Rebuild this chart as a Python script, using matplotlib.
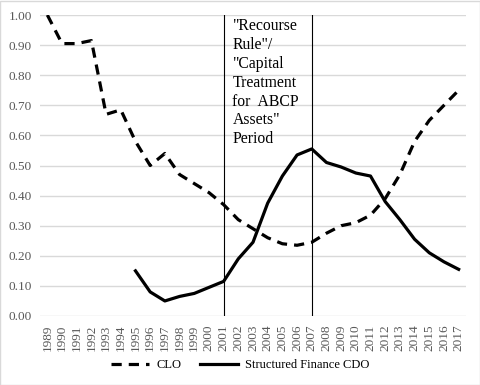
import numpy as np
import matplotlib.pyplot as plt
from matplotlib.lines import Line2D

plt.rcParams.update({
    "font.family": ["Liberation Serif", "DejaVu Serif"],
})

years = list(range(1989, 2018))
clo = [1.00, 0.905, 0.905, 0.915, 0.67, 0.685, 0.58, 0.50, 0.54, 0.47,
       0.44, 0.41, 0.37, 0.32, 0.29, 0.26, 0.24, 0.235, 0.245, 0.275,
       0.30, 0.31, 0.335, 0.39, 0.47, 0.58, 0.65, 0.70, 0.75]
sf_years = list(range(1995, 2018))
sf_cdo = [0.15, 0.08, 0.05, 0.065, 0.075, 0.095, 0.115, 0.19, 0.245, 0.375,
          0.465, 0.535, 0.555, 0.51, 0.495, 0.475, 0.465, 0.38, 0.32, 0.255,
          0.21, 0.18, 0.155]
period = (2001, 2007)
period_text = '"Recourse\nRule"/\n"Capital\nTreatment\nfor  ABCP\nAssets"\nPeriod'

fig = plt.figure(figsize=(4.81, 3.85), dpi=100)
ax = fig.add_axes([40 / 481, 1 - 316 / 385, 426 / 481, 301 / 385])

x_clo = [years.index(y) for y in years]
x_sf = [years.index(y) for y in sf_years]

ax.plot(x_clo, clo, color="black", lw=2.3, dashes=(3.2, 2.2), label="CLO")
ax.plot(x_sf, sf_cdo, color="black", lw=2.3, label="Structured Finance CDO")

for p in period:
    ax.axvline(years.index(p), color="black", lw=0.8)

ax.text(years.index(period[0]) + 0.6, 0.99, period_text, va="top", ha="left",
        fontsize=11.3, linespacing=1.24, color="black")

ax.set_xlim(-0.5, len(years) - 0.5)
ax.set_ylim(0, 1.0)
ax.set_yticks(np.arange(0, 1.01, 0.1))
ax.set_yticklabels([f"{v:.2f}" for v in np.arange(0, 1.01, 0.1)])
ax.set_xticks(range(len(years)))
ax.set_xticklabels([str(y) for y in years], rotation=90)
ax.tick_params(axis="both", length=0, labelsize=9.5, labelcolor="#595959")
ax.tick_params(axis="y", pad=6)
ax.tick_params(axis="x", pad=6)
ax.grid(axis="y", color="#d9d9d9", lw=1)
ax.set_axisbelow(True)
for s in ax.spines.values():
    s.set_visible(False)

handles = [Line2D([0], [0], color="black", lw=2.3, dashes=(3.2, 2.2)),
           Line2D([0], [0], color="black", lw=2.3)]
fig.legend(handles, ["CLO", "Structured Finance CDO"], loc="center",
           bbox_to_anchor=(0.5, 1 - 365 / 385), ncol=2, frameon=False,
           fontsize=9, handlelength=3.0, columnspacing=1.5, handletextpad=0.6)

fig.patches.append(plt.Rectangle((0.001, 0.001), 0.997, 0.997, transform=fig.transFigure,
                                 fill=False, edgecolor="#d9d9d9", lw=1))

fig.savefig("out.png", dpi=100)
